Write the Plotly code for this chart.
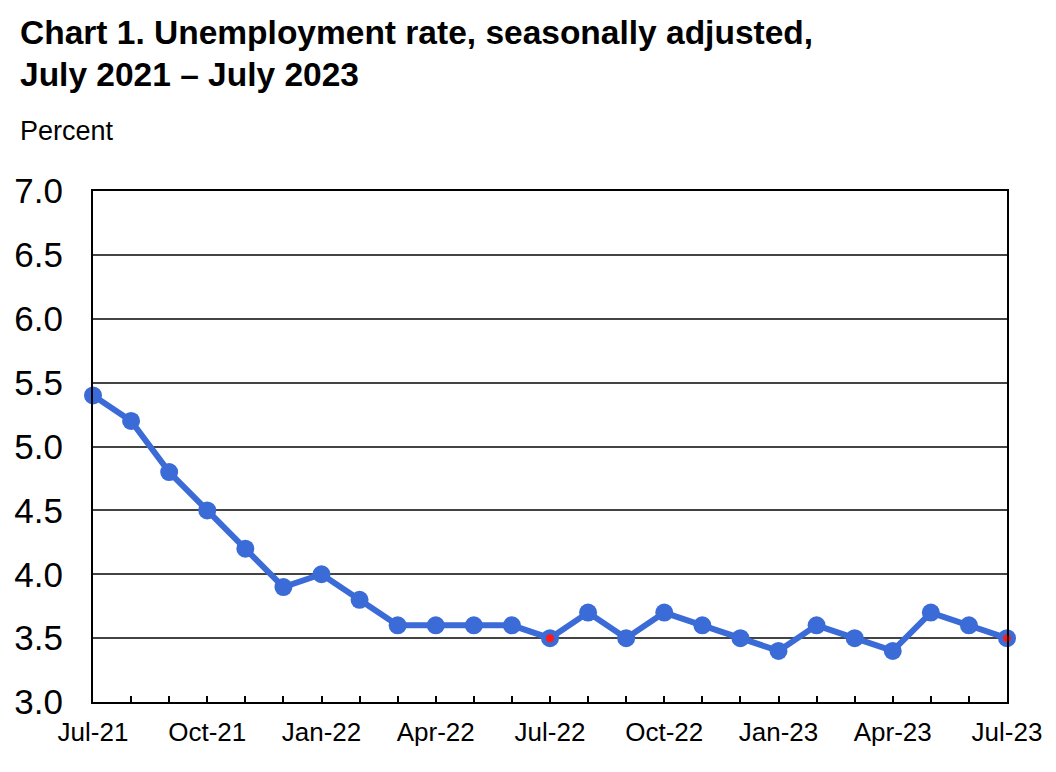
import plotly.graph_objects as go

months = ["Jul-21","Aug-21","Sep-21","Oct-21","Nov-21","Dec-21","Jan-22","Feb-22","Mar-22",
          "Apr-22","May-22","Jun-22","Jul-22","Aug-22","Sep-22","Oct-22","Nov-22","Dec-22",
          "Jan-23","Feb-23","Mar-23","Apr-23","May-23","Jun-23","Jul-23"]
rates = [5.4,5.2,4.8,4.5,4.2,3.9,4.0,3.8,3.6,3.6,3.6,3.6,3.5,3.7,3.5,3.7,3.6,3.5,3.4,3.6,3.5,3.4,3.7,3.6,3.5]
highlight = ["Jul-22","Jul-23"]
tick_labels = ["Jul-21","Oct-21","Jan-22","Apr-22","Jul-22","Oct-22","Jan-23","Apr-23","Jul-23"]
y_ticks = [3.0,3.5,4.0,4.5,5.0,5.5,6.0,6.5,7.0]

idx = list(range(len(months)))
hi_x = [months.index(m) for m in highlight]
hi_y = [rates[i] for i in hi_x]
tick_pos = [months.index(m) for m in tick_labels]

# page has an 8px body margin; figure sized to fit the window
W, H = 1048, 764
L, R, T, B = 85, 49, 183, 70
pw, ph = W - L - R, H - T - B

def px_x(x):
    return (x - L) / pw

def px_y(y):
    return 1 + (T - y) / ph

blue = "#3B6BD6"
fig = go.Figure()
fig.add_trace(go.Scatter(x=idx, y=rates, mode="lines+markers",
                         line=dict(color=blue, width=6),
                         marker=dict(color=blue, size=18),
                         cliponaxis=False, hoverinfo="skip"))
fig.add_trace(go.Scatter(x=hi_x, y=hi_y, mode="markers",
                         marker=dict(color="#FF1A1A", size=8),
                         cliponaxis=False, hoverinfo="skip"))

fig.update_layout(
    width=W, height=H,
    margin=dict(l=L, r=R, t=T, b=B, autoexpand=False),
    paper_bgcolor="white", plot_bgcolor="white",
    showlegend=False,
    font=dict(family="Liberation Sans, Arial, sans-serif", color="black"),
    xaxis=dict(range=[0, 24], tickvals=tick_pos, ticktext=tick_labels,
               tickfont=dict(size=26), showgrid=False, zeroline=False, automargin=False,
               showline=True, linecolor="black", linewidth=2, mirror=True,
               ticks="inside", ticklen=0, ticklabelstandoff=6,
               minor=dict(dtick=1, ticks="inside", ticklen=6, tickcolor="black", tickwidth=1.5)),
    yaxis=dict(range=[3.0, 7.0], tickvals=y_ticks, ticktext=[f"{v:.1f}" for v in y_ticks],
               tickfont=dict(size=35), showgrid=True, gridcolor="#444444", gridwidth=1.5,
               zeroline=False, automargin=False, showline=True, linecolor="black",
               linewidth=2, mirror=True, ticks="", ticklabelstandoff=21),
    annotations=[
        dict(text="<b>Chart 1. Unemployment rate, seasonally adjusted,</b>",
             x=px_x(10), y=px_y(4), xref="paper", yref="paper", showarrow=False,
             xanchor="left", yanchor="top", font=dict(size=33.5)),
        dict(text="<b>July 2021 – July 2023</b>",
             x=px_x(10), y=px_y(46), xref="paper", yref="paper", showarrow=False,
             xanchor="left", yanchor="top", font=dict(size=33.5)),
        dict(text="Percent",
             x=px_x(10), y=px_y(106), xref="paper", yref="paper", showarrow=False,
             xanchor="left", yanchor="top", font=dict(size=27)),
    ],
)

fig.write_html("out.html")
